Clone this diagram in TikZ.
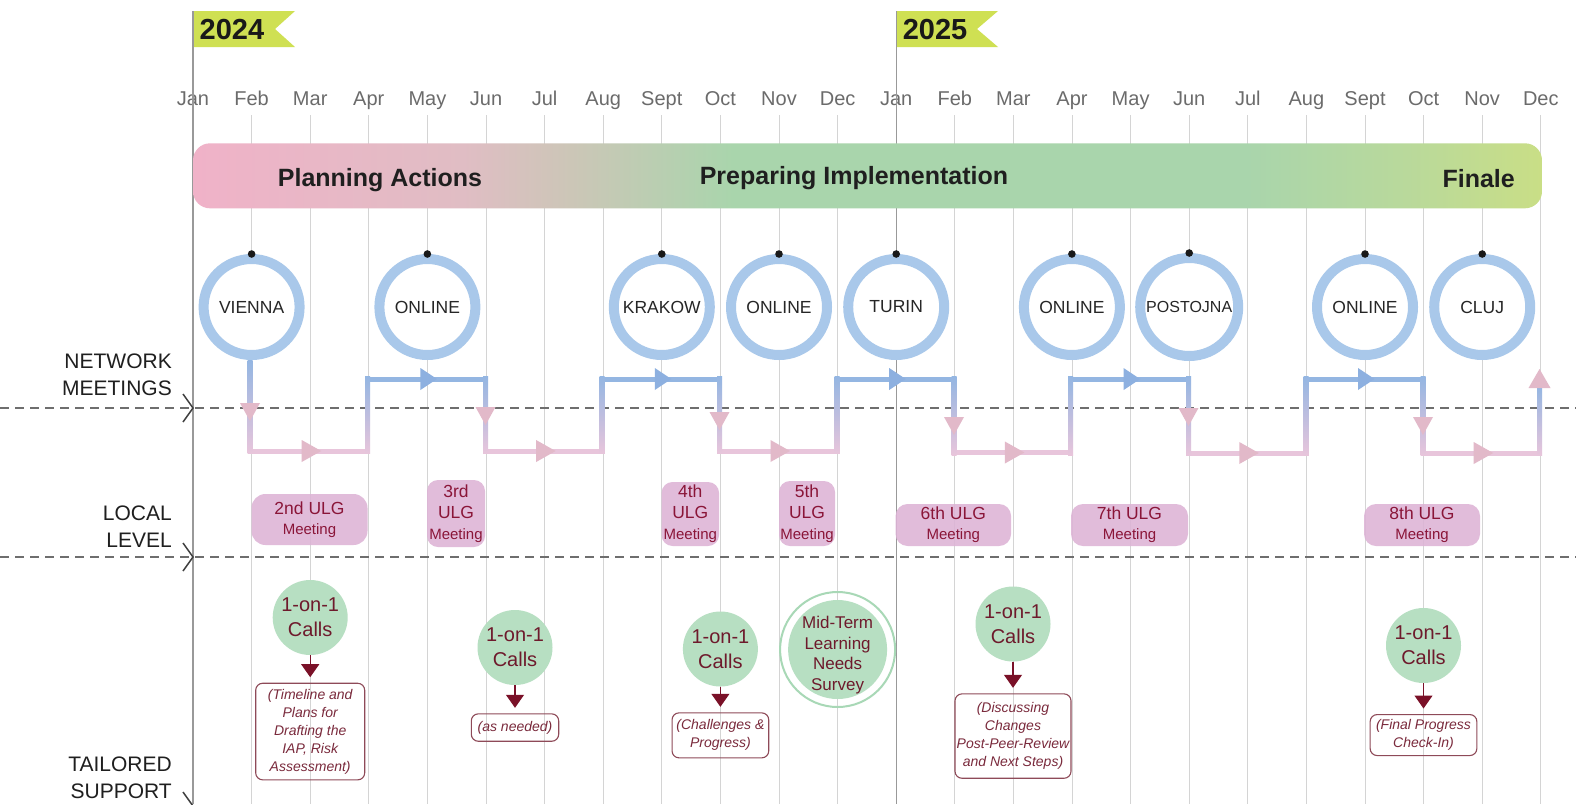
\documentclass[tikz,border=0pt]{standalone}
\usepackage{fontspec}
\setmainfont{Liberation Sans}
\usetikzlibrary{arrows.meta}

\definecolor{monthgray}{HTML}{6B6B6B}
\definecolor{gridgray}{HTML}{D4D4D4}
\definecolor{jangray}{HTML}{999999}
\definecolor{flag}{HTML}{CFE053}
\definecolor{ring}{HTML}{A9C8EA}
\definecolor{stepblue}{HTML}{94B6E2}
\definecolor{steppink}{HTML}{E8C5DB}
\definecolor{arrblue}{HTML}{8DB0E0}
\definecolor{arrpink}{HTML}{E2B9C9}
\definecolor{ulgfill}{HTML}{DDB3D6}
\definecolor{ulgtext}{HTML}{8A1538}
\definecolor{callfill}{HTML}{B7DFC2}
\definecolor{midring}{HTML}{A8D8B6}
\definecolor{calltext}{HTML}{6E1A2C}
\definecolor{notetext}{HTML}{7A2A3C}
\definecolor{darkred}{HTML}{7A1128}
\definecolor{boxline}{HTML}{8E4A58}
\definecolor{dashgray}{HTML}{6E6E6E}
\definecolor{bpink}{HTML}{F0B2C8}
\definecolor{bmid}{HTML}{E0BDC4}
\definecolor{btan}{HTML}{CCC6B7}
\definecolor{bgreen}{HTML}{A9D5AC}
\definecolor{blimea}{HTML}{B9D99B}
\definecolor{blime}{HTML}{C9DE86}

\pgfdeclarehorizontalshading{bannershade}{100bp}{color(0bp)=(bpink); color(25bp)=(bpink); color(35bp)=(bmid); color(39bp)=(btan); color(45bp)=(bgreen); color(64bp)=(bgreen); color(70bp)=(blimea); color(75bp)=(blime); color(100bp)=(blime)}

\begin{document}
\begin{tikzpicture}[x=1pt,y=-1pt,
  monthlbl/.style={anchor=base, text=monthgray, font=\fontsize{20}{24}\selectfont, inner sep=0},
  gridline/.style={draw=gridgray, line width=1pt},
  janline/.style={draw=jangray, line width=1.2pt},
  yearflag/.style={fill=flag},
  yeartxt/.style={anchor=base, font=\bfseries\fontsize{29}{30}\selectfont, text=black!90, inner sep=0},
  bannertxt/.style={anchor=base, font=\bfseries\fontsize{25}{30}\selectfont, text=black!88, inner sep=0},
  netring/.style={circle, draw=ring, line width=10pt, fill=white, minimum size=96pt, inner sep=0, font=\fontsize{17.5}{20}\selectfont, text=black!85},
  netdot/.style={fill=black!90},
  lanelbl/.style={align=right, font=\fontsize{21}{26.8}\selectfont, text=black!88, inner sep=0, anchor=east},
  dashsep/.style={draw=dashgray, line width=1.6pt, dash pattern=on 9pt off 6pt},
  chev/.style={draw=black!75, line width=1.5pt},
  toppath/.style={draw=stepblue, line width=5pt, line cap=rect},
  botpath/.style={draw=steppink, line width=5pt, line cap=rect},
  riser/.style={top color=stepblue, bottom color=steppink},
  arrB/.style={fill=arrblue},
  arrP/.style={fill=arrpink},
  ulg/.style={fill=ulgfill, fill opacity=0.88, text opacity=1, text=ulgtext, inner sep=0, align=center},
  ulgwide/.style={ulg, rounded corners=14pt, font=\fontsize{17.5}{20}\selectfont},
  ulgnarrow/.style={ulg, rounded corners=11pt, font=\fontsize{17.5}{21}\selectfont},
  call/.style={circle, fill=callfill, minimum size=75pt, inner sep=0, align=center, text=calltext, font=\fontsize{20}{25}\selectfont},
  note/.style={draw=boxline, line width=1.1pt, rounded corners=7pt, inner sep=0, align=center, text=notetext, font=\itshape\fontsize{14}{18}\selectfont},
  callarrow/.style={draw=darkred, line width=1.1pt, -{Triangle[width=18pt,length=13pt]}, shorten >=5.5pt}
]
\useasboundingbox (0,0) rectangle (1576,804);
\fill[white] (0,0) rectangle (1576,804);

% grid lines
\foreach \i in {1,...,23} {
  \ifnum\i=12\else
    \pgfmathsetmacro{\xx}{193+58.6*\i}
    \draw[gridline] (\xx,115) -- (\xx,804);
  \fi
}
% month labels
\foreach \m [count=\i from 0] in {Jan,Feb,Mar,Apr,May,Jun,Jul,Aug,Sept,Oct,Nov,Dec,Jan,Feb,Mar,Apr,May,Jun,Jul,Aug,Sept,Oct,Nov,Dec} {
  \pgfmathsetmacro{\xx}{193+58.6*\i}
  \node[monthlbl] (mon\i) at (\xx,105) {\m};
}
% year flags
\fill[yearflag] (193,11) -- (295,11) -- (275,29) -- (295,47) -- (193,47) -- cycle;
\fill[yearflag] (896.2,11) -- (998,11) -- (977,29) -- (998,47) -- (896.2,47) -- cycle;
\draw[janline] (193,11) -- (193,804);
\draw[janline] (896.2,11) -- (896.2,804);
\node[yeartxt] (y2024) at (232,39.5) {2024};
\node[yeartxt] (y2025) at (935,39.5) {2025};

% banner
\shade[shading=bannershade, rounded corners=17pt] (193,143.3) rectangle (1542,208.3);
\node[bannertxt] (plan) at (380,186.5) {Planning Actions};
\node[bannertxt] (prep) at (854,184.5) {Preparing Implementation};
\node[bannertxt, anchor=base east] (fin) at (1515,187.5) {Finale};

% lane separators
\draw[dashsep] (0,408) -- (1576,408);
\draw[dashsep] (0,557) -- (1576,557);
\draw[chev] (183,394) -- (193,408) -- (183,422);
\draw[chev] (183,543) -- (193,557) -- (183,571);
\draw[chev] (183,792) -- (193,806) -- (183,820);

% lane labels
\node[lanelbl] (lnet) at (172,374.5) {NETWORK\\MEETINGS};
\node[lanelbl] (lloc) at (172,527) {LOCAL\\LEVEL};
\node[lanelbl] (ltai) at (172,777.5) {TAILORED\\SUPPORT};

% network meeting circles
\node[netring] (vienna) at (251.6,307) {VIENNA};
\node[netring] (onl1) at (427.4,307) {ONLINE};
\node[netring] (krakow) at (661.8,307) {KRAKOW};
\node[netring] (onl2) at (779,307) {ONLINE};
\node[netring] (turin) at (896.2,307) {TURIN};
\node[netring] (onl3) at (1071.9,307) {ONLINE};
\node[netring, minimum size=98pt, font=\fontsize{16}{20}\selectfont] (postojna) at (1189.2,307) {POSTOJNA};
\node[netring] (onl4) at (1365,307) {ONLINE};
\node[netring] (cluj) at (1482.2,307) {CLUJ};
\foreach \n in {vienna,onl1,krakow,onl2,turin,onl3,postojna,onl4,cluj}
  \fill[netdot] (\n.north) circle (3.8);

% step path: horizontals
\foreach \a/\b in {367.5/485.5, 602/719.5, 837/954, 1070.5/1188.5, 1306/1423}
  \draw[toppath] (\a,379) -- (\b,379);
\foreach \a/\b/\y in {250/367.5/451, 485.5/602/451, 719.5/837/451, 954/1070.5/452.5, 1188.5/1306/453, 1423/1539.5/453}
  \draw[botpath] (\a,\y) -- (\b,\y);
% risers
\shade[riser] (247.5,360) rectangle (252.5,453.5);
\foreach \x/\t/\b in {367.5/379/451, 485.5/379/451, 602/379/451, 719.5/379/451, 837/379/451, 954/379/452.5, 1070.5/379/452.5, 1188.5/379/453, 1306/379/453, 1423/379/453}
  \shade[riser] ({\x-2.5},{\t-2.5}) rectangle ({\x+2.5},{\b+2.5});
\shade[riser] (1537,386) rectangle (1542,455.5);
% arrowheads on the step path
\foreach \x in {427.4,661.8,896.2,1130.6,1365}
  \fill[arrB] ({\x-7},368) -- ({\x+9.5},379) -- ({\x-7},390) -- cycle;
\foreach \x/\y in {310.2/451, 544.6/451, 779/451, 1013.4/452.5, 1247.8/453, 1482.2/453}
  \fill[arrP] ({\x-8.5},{\y-11}) -- ({\x+11},\y) -- ({\x-8.5},{\y+11}) -- cycle;
\foreach \x/\a in {250/403, 485.5/407, 719.5/412, 954/417, 1188.5/408, 1423/417}
  \fill[arrP] ({\x-10},\a) -- ({\x+10},\a) -- (\x,{\a+18}) -- cycle;
\fill[arrP] (1528.5,388) -- (1550.5,388) -- (1539.5,369) -- cycle;

% ULG meetings
\node[ulgwide, minimum width=116pt, minimum height=51pt] (u2) at (309.5,519.5) {2nd ULG\\{\fontsize{15}{18}\selectfont Meeting}};
\node[ulgnarrow, minimum width=58pt, minimum height=67pt] (u3) at (456,513.5) {3rd\\ULG\\{\fontsize{15}{19}\selectfont Meeting}};
\node[ulgnarrow, minimum width=57.5pt, minimum height=64pt] (u4) at (690.3,514) {4th\\ULG\\{\fontsize{15}{19}\selectfont Meeting}};
\node[ulgnarrow, minimum width=56pt, minimum height=65pt] (u5) at (807,513.5) {5th\\ULG\\{\fontsize{15}{19}\selectfont Meeting}};
\node[ulgwide, rounded corners=12pt, minimum width=115.5pt, minimum height=42pt] (u6) at (953.3,525) {6th ULG\\{\fontsize{15}{18}\selectfont Meeting}};
\node[ulgwide, rounded corners=12pt, minimum width=117pt, minimum height=42pt] (u7) at (1129.5,525) {7th ULG\\{\fontsize{15}{18}\selectfont Meeting}};
\node[ulgwide, rounded corners=12pt, minimum width=116pt, minimum height=42pt] (u8) at (1422,525) {8th ULG\\{\fontsize{15}{18}\selectfont Meeting}};

% tailored support
\node[call] (c1) at (310.2,617.5) {1-on-1\\Calls};
\node[note, anchor=north, minimum width=109pt, minimum height=96.6pt] (n1) at (310.2,682.7) {(Timeline and\\Plans for\\Drafting the\\IAP, Risk\\Assessment)};
\node[call] (c2) at (515,647.5) {1-on-1\\Calls};
\node[note, anchor=north, minimum width=87.4pt, minimum height=27.4pt] (n2) at (515,713.3) {(as needed)};
\node[call] (c3) at (720.4,649) {1-on-1\\Calls};
\node[note, anchor=north, minimum width=96.7pt, minimum height=45pt] (n3) at (720.4,712.3) {(Challenges \&\\Progress)};
\node[call, minimum size=99pt] (mid) at (837.6,649.5) {};
\node[align=center, text=calltext, inner sep=0, font=\fontsize{17}{20.5}\selectfont] (midlbl) at (837.6,655) {Mid-Term\\Learning\\Needs\\Survey};
\node[circle, draw=midring, line width=2pt, minimum size=115pt, inner sep=0] (midring) at (837.6,649.5) {};
\node[call] (c4) at (1013,624) {1-on-1\\Calls};
\node[note, anchor=north, minimum width=116pt, minimum height=84.4pt] (n4) at (1013,693.3) {(Discussing\\Changes\\Post-Peer-Review\\and Next Steps)};
\node[call] (c5) at (1423.5,645.5) {1-on-1\\Calls};
\node[note, anchor=north, minimum width=106.7pt, minimum height=41pt] (n5) at (1423.5,714) {(Final Progress\\Check-In)};
\foreach \c/\n in {c1/n1, c2/n2, c3/n3, c4/n4, c5/n5}
  \draw[callarrow] (\c) -- (\n);
\end{tikzpicture}
\end{document}
